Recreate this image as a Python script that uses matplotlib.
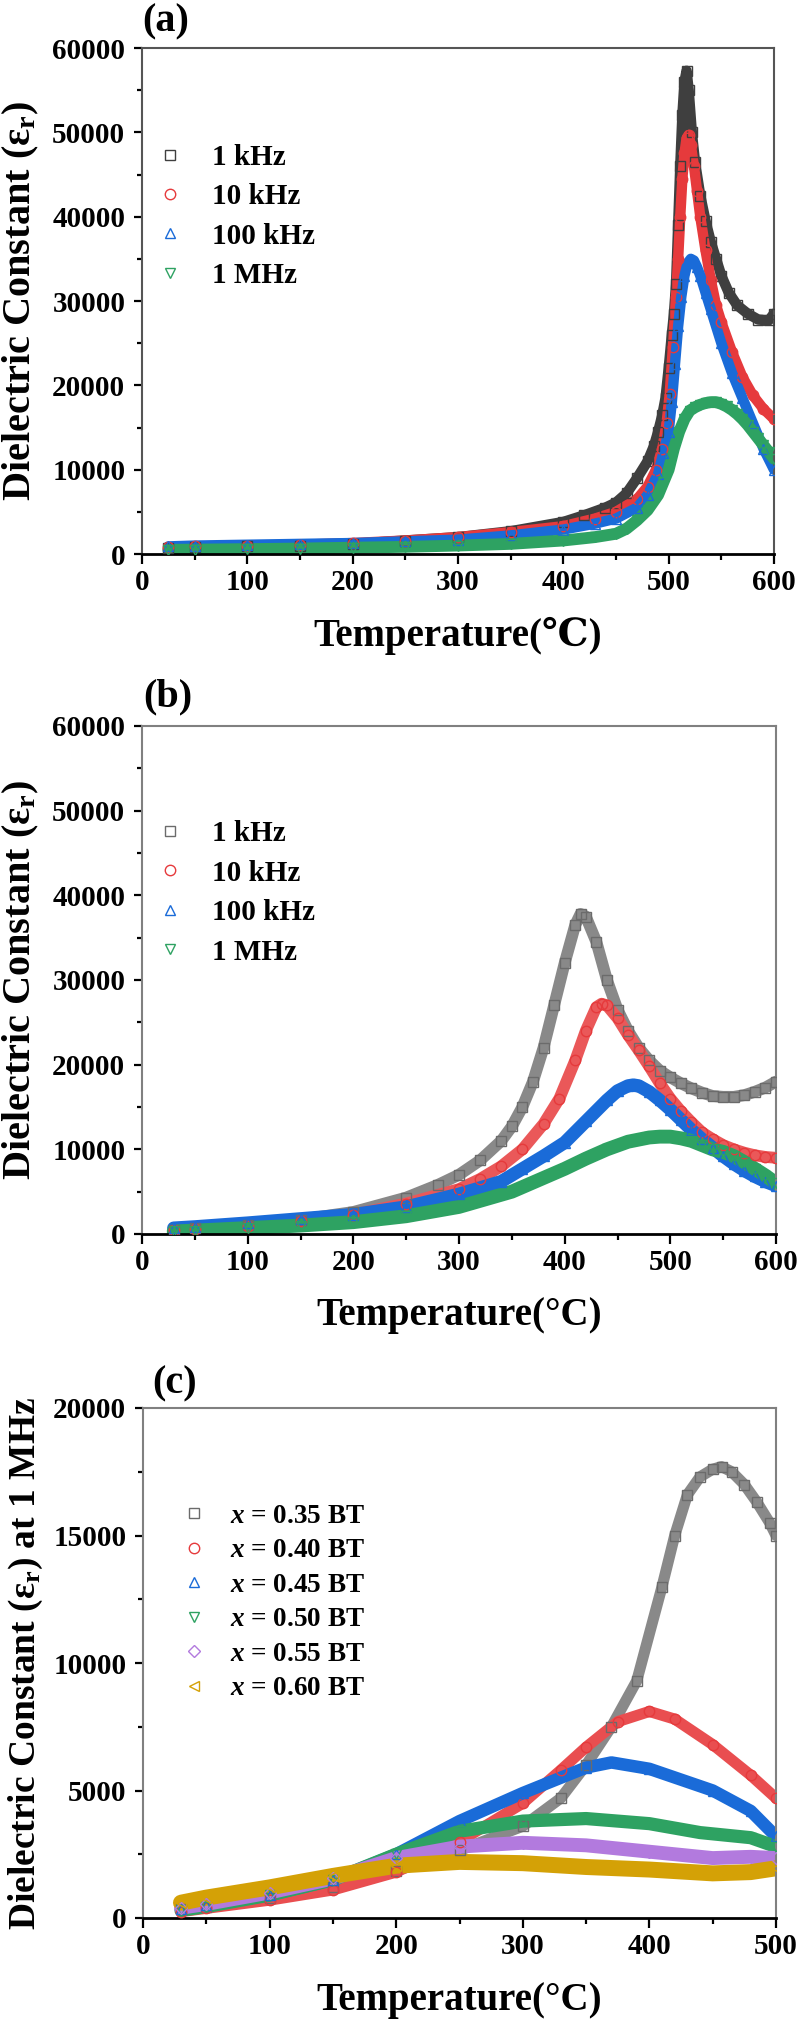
import matplotlib
matplotlib.use("Agg")
import matplotlib.pyplot as plt
from matplotlib.colors import to_rgb
from matplotlib.ticker import MultipleLocator

# ---------------------------------------------------------------------------
# Data
# ---------------------------------------------------------------------------
# (a)
a_t_1k = [25, 50, 100, 150, 200, 250, 300, 350, 400, 420, 440, 450, 460, 470, 480, 486, 490, 494, 497,
          500, 503, 505, 507, 509, 511, 513, 515, 517, 519, 522, 525, 530, 535, 540, 545, 550, 557, 565,
          575, 585, 595, 600]
a_e_1k = [700, 800, 900, 1000, 1200, 1600, 2000, 2700, 3800, 4600, 5500, 6100, 7200, 9000, 11000, 12800,
          14500, 16500, 18500, 22000, 26000, 28500, 32000, 39000, 46000, 52000, 56000, 57300, 55000, 50000,
          46500, 42500, 39500, 37000, 35000, 33000, 31000, 29500, 28500, 27800, 27700, 28500]
a_t_10k = [25, 50, 100, 150, 200, 250, 300, 350, 400, 430, 450, 470, 480, 488, 494, 498, 501, 504, 507,
           509, 511, 513, 515, 517, 519, 521, 524, 527, 530, 535, 540, 545, 550, 560, 570, 580, 590, 600]
a_e_10k = [800, 900, 1000, 1100, 1300, 1600, 2000, 2600, 3300, 4200, 5000, 6500, 8000, 10000, 12500,
           15500, 19000, 24500, 30500, 35000, 40000, 44500, 47500, 49300, 49700, 48500, 46000, 43000,
           40000, 36000, 32500, 29500, 27500, 24000, 21000, 18800, 17200, 16000]
a_t_100k = [25, 50, 100, 150, 200, 250, 300, 350, 400, 430, 450, 470, 480, 490, 495, 500, 503, 506, 509,
            512, 515, 518, 521, 524, 527, 530, 535, 540, 550, 560, 570, 580, 590, 600]
a_e_100k = [900, 1000, 1100, 1200, 1300, 1500, 1700, 2200, 2900, 3600, 4200, 5500, 7000, 9500, 12000,
            14500, 18000, 22500, 27000, 30500, 33000, 34500, 35000, 34800, 34000, 33000, 31000, 29000,
            25000, 21500, 18500, 15500, 12500, 10000]
a_t_1m = [25, 50, 100, 150, 200, 250, 300, 350, 400, 430, 450, 460, 470, 480, 490, 495, 500, 505, 510,
          515, 520, 525, 530, 535, 540, 545, 550, 555, 560, 565, 570, 575, 580, 585, 590, 595, 600]
a_e_1m = [500, 520, 580, 650, 750, 850, 1000, 1200, 1600, 2000, 2400, 3000, 4000, 5200, 7000, 8500,
          10000, 12500, 14500, 16000, 17000, 17400, 17700, 17900, 18000, 18000, 17800, 17500, 17100,
          16600, 16000, 15300, 14500, 13700, 12900, 12100, 11300]

# (b)
b_t_1k = [30, 50, 100, 150, 200, 250, 280, 300, 320, 340, 350, 360, 370, 380, 390, 400, 410, 415, 420,
          430, 440, 450, 460, 470, 480, 490, 500, 510, 520, 530, 540, 550, 560, 570, 580, 590, 600]
b_e_1k = [500, 650, 1100, 1700, 2600, 4300, 5800, 7000, 8700, 11000, 12700, 15000, 18000, 22000, 27000,
          32000, 36500, 37800, 37500, 34500, 30000, 26500, 24000, 22000, 20500, 19300, 18500, 17800,
          17200, 16700, 16300, 16200, 16200, 16400, 16800, 17300, 18000]
b_t_10k = [30, 50, 100, 150, 200, 250, 300, 320, 340, 360, 380, 395, 410, 420, 430, 435, 440, 450, 460,
           470, 480, 490, 500, 510, 520, 530, 540, 550, 560, 570, 580, 590, 600]
b_e_10k = [500, 600, 1000, 1500, 2300, 3600, 5300, 6500, 8000, 10000, 13000, 16000, 20500, 24000,
           26800, 27200, 27000, 25500, 23500, 21700, 19800, 17800, 16000, 14500, 13200, 12000, 11200,
           10500, 10000, 9600, 9300, 9100, 9000]
b_t_100k = [30, 50, 100, 150, 200, 250, 300, 340, 360, 380, 400, 420, 440, 450, 460, 465, 470, 480, 490,
            500, 510, 520, 530, 540, 550, 560, 570, 580, 590, 600]
b_e_100k = [700, 850, 1300, 1800, 2300, 3200, 4700, 6200, 7700, 9200, 10800, 13300, 15800, 16900, 17500,
            17600, 17500, 16800, 15800, 14700, 13500, 12300, 11200, 10200, 9200, 8300, 7500, 6800, 6200,
            5700]
b_t_1m = [30, 50, 100, 150, 200, 250, 300, 350, 400, 420, 440, 460, 480, 490, 500, 510, 520, 530, 540,
          550, 560, 570, 580, 590, 600]
b_e_1m = [300, 400, 700, 1000, 1400, 2100, 3200, 5000, 7700, 8900, 10000, 10900, 11400, 11500, 11500,
          11300, 11000, 10500, 10000, 9700, 9200, 8500, 7700, 6900, 6000]

# (c) at 1 MHz
c_t_35 = [30, 50, 100, 150, 200, 250, 300, 330, 350, 370, 390, 410, 420, 430, 440, 450, 457, 465, 475,
          485, 495, 500]
c_e_35 = [350, 450, 800, 1200, 1850, 2650, 3600, 4700, 6000, 7500, 9300, 13000, 15000, 16600, 17300,
          17600, 17700, 17500, 17000, 16300, 15500, 15000]
c_t_40 = [30, 50, 100, 150, 200, 250, 300, 330, 350, 375, 400, 420, 450, 480, 500]
c_e_40 = [250, 380, 700, 1100, 1800, 3000, 4500, 5800, 6700, 7700, 8100, 7800, 6800, 5600, 4700]
c_t_45 = [30, 50, 100, 150, 200, 250, 300, 350, 370, 400, 450, 480, 500]
c_e_45 = [350, 500, 900, 1500, 2500, 3800, 4900, 5900, 6100, 5850, 5000, 4200, 3200]
c_t_50 = [30, 50, 100, 150, 200, 250, 300, 350, 400, 440, 480, 500]
c_e_50 = [300, 450, 900, 1500, 2500, 3400, 3800, 3900, 3700, 3350, 3150, 2800]
c_t_55 = [30, 50, 100, 150, 200, 250, 300, 350, 400, 450, 480, 500]
c_e_55 = [400, 550, 1000, 1550, 2350, 2800, 2950, 2850, 2600, 2350, 2400, 2350]
c_t_60 = [30, 50, 100, 150, 200, 250, 300, 350, 400, 450, 480, 500]
c_e_60 = [600, 800, 1200, 1650, 2050, 2200, 2150, 2000, 1900, 1750, 1800, 1950]

freq_labels = ["1 kHz", "10 kHz", "100 kHz", "1 MHz"]
comp_labels = ["$x$ = 0.35 BT", "$x$ = 0.40 BT", "$x$ = 0.45 BT",
               "$x$ = 0.50 BT", "$x$ = 0.55 BT", "$x$ = 0.60 BT"]

# ---------------------------------------------------------------------------
# Style
# ---------------------------------------------------------------------------
plt.rcParams["font.family"] = ["Liberation Serif", "DejaVu Serif", "DejaVu Sans"]
plt.rcParams["font.weight"] = "bold"
plt.rcParams["mathtext.fontset"] = "custom"
plt.rcParams["mathtext.rm"] = "Liberation Serif:bold"
plt.rcParams["mathtext.bf"] = "Liberation Serif:bold"
plt.rcParams["mathtext.it"] = "Liberation Serif:italic:bold"

GRAY_A, GRAY = "#3f3f3f", "#6b6b6b"
RED, BLUE, GREEN = "#e63a3c", "#1a6bd8", "#2ea262"
PURPLE, GOLD = "#b27ade", "#d4a106"


def tint(c, f):
    r, g, b = to_rgb(c)
    return (r + (1 - r) * f, g + (1 - g) * f, b + (1 - b) * f)


def band(ax, t, e, color, marker, label, lw=7.5, fade=0.0, ms=7.5):
    ax.plot(t, e, color=tint(color, fade), lw=lw, solid_capstyle="round",
            solid_joinstyle="round", zorder=2)
    ax.plot(t, e, ls="none", marker=marker, ms=ms, mfc="none", mec=color,
            mew=1.0, label=label, zorder=3)


def style_axes(ax, xmax, ymax, ymajor, spine_col):
    ax.set_xlim(0, xmax)
    ax.set_ylim(0, ymax)
    ax.xaxis.set_major_locator(MultipleLocator(100))
    ax.xaxis.set_minor_locator(MultipleLocator(50))
    ax.yaxis.set_major_locator(MultipleLocator(ymajor))
    ax.yaxis.set_minor_locator(MultipleLocator(ymajor / 2))
    for s in ["left", "top", "right"]:
        ax.spines[s].set_color(spine_col)
        ax.spines[s].set_linewidth(1.5)
    ax.spines["bottom"].set_color("black")
    ax.spines["bottom"].set_linewidth(2)
    ax.tick_params(which="both", direction="out", top=False, right=False,
                   color="black", width=1.6, labelsize=21)
    ax.tick_params(axis="x", which="major", length=7, pad=4)
    ax.tick_params(axis="x", which="minor", length=4.5)
    ax.tick_params(axis="y", which="major", length=6, pad=6)
    ax.tick_params(axis="y", which="minor", length=3.5)
    for lab in ax.get_xticklabels() + ax.get_yticklabels():
        lab.set_fontweight("bold")


fig = plt.figure(figsize=(8, 20.21), dpi=100)
W, H = 800, 2021


def add_axes(left, top, right, bottom):
    return fig.add_axes([left / W, 1 - bottom / H, (right - left) / W, (bottom - top) / H])


# ---------------------------------------------------------------------------
# (a)
# ---------------------------------------------------------------------------
ax = add_axes(142, 48, 774, 554)
band(ax, a_t_1k, a_e_1k, GRAY_A, "s", freq_labels[0], lw=7.5)
band(ax, a_t_10k, a_e_10k, RED, "o", freq_labels[1], lw=7.5)
band(ax, a_t_100k, a_e_100k, BLUE, "^", freq_labels[2], lw=7.5)
band(ax, a_t_1m, a_e_1m, GREEN, "v", freq_labels[3], lw=8.5)
style_axes(ax, 600, 60000, 10000, "#555555")
ax.set_xlabel("Temperature(\u2103)", fontsize=28, fontweight="bold")
ax.set_ylabel("Dielectric Constant (\u03b5$_{\\mathbf{r}}$)", fontsize=29, fontweight="bold")
ax.xaxis.set_label_coords(0.5, -0.125)
ax.yaxis.set_label_coords(-0.16, 0.5)
ax.legend(loc="upper left", bbox_to_anchor=(0.021, 0.81), frameon=False,
          handlelength=1.0, handletextpad=0.95, labelspacing=0.42, borderpad=0,
          borderaxespad=0, prop={"weight": "bold", "size": 21})
fig.text(142 / W, 1 - 31 / H, "(a)", fontsize=29, fontweight="bold", va="baseline")

# ---------------------------------------------------------------------------
# (b)
# ---------------------------------------------------------------------------
ax = add_axes(142, 726, 776, 1234)
band(ax, b_t_1k, b_e_1k, GRAY, "s", freq_labels[0], lw=8.5, fade=0.2)
band(ax, b_t_10k, b_e_10k, RED, "o", freq_labels[1], lw=8.5, fade=0.15)
band(ax, b_t_100k, b_e_100k, BLUE, "^", freq_labels[2], lw=9.5)
band(ax, b_t_1m, b_e_1m, GREEN, "v", freq_labels[3], lw=10)
style_axes(ax, 600, 60000, 10000, "#808080")
ax.set_xlabel("Temperature(\u00b0C)", fontsize=28, fontweight="bold")
ax.set_ylabel("Dielectric Constant (\u03b5$_{\\mathbf{r}}$)", fontsize=29, fontweight="bold")
ax.xaxis.set_label_coords(0.5, -0.125)
ax.yaxis.set_label_coords(-0.16, 0.5)
ax.legend(loc="upper left", bbox_to_anchor=(0.021, 0.815), frameon=False,
          handlelength=1.0, handletextpad=0.95, labelspacing=0.43, borderpad=0,
          borderaxespad=0, prop={"weight": "bold", "size": 21})
fig.text(143 / W, 1 - 706 / H, "(b)", fontsize=29, fontweight="bold", va="baseline")

# ---------------------------------------------------------------------------
# (c)
# ---------------------------------------------------------------------------
ax = add_axes(143, 1408, 776, 1918)
band(ax, c_t_35, c_e_35, GRAY, "s", comp_labels[0], lw=8, fade=0.2)
band(ax, c_t_40, c_e_40, RED, "o", comp_labels[1], lw=8, fade=0.1)
band(ax, c_t_45, c_e_45, BLUE, "^", comp_labels[2], lw=9)
band(ax, c_t_50, c_e_50, GREEN, "v", comp_labels[3], lw=9.5)
band(ax, c_t_55, c_e_55, PURPLE, "D", comp_labels[4], lw=10, ms=6.5)
band(ax, c_t_60, c_e_60, GOLD, "<", comp_labels[5], lw=11.5)
style_axes(ax, 500, 20000, 5000, "#808080")
ax.set_xlabel("Temperature(\u00b0C)", fontsize=28, fontweight="bold")
ax.set_ylabel("Dielectric Constant (\u03b5$_{\\mathbf{r}}$) at 1 MHz", fontsize=27, fontweight="bold")
ax.xaxis.set_label_coords(0.5, -0.125)
ax.yaxis.set_label_coords(-0.155, 0.5)
ax.legend(loc="upper left", bbox_to_anchor=(0.059, 0.812), frameon=False,
          handlelength=1.0, handletextpad=0.83, labelspacing=0.35, borderpad=0,
          borderaxespad=0, prop={"weight": "bold", "size": 19.5})
fig.text(152 / W, 1 - 1393 / H, "(c)", fontsize=29, fontweight="bold", va="baseline")

fig.savefig("out.png", dpi=100)
